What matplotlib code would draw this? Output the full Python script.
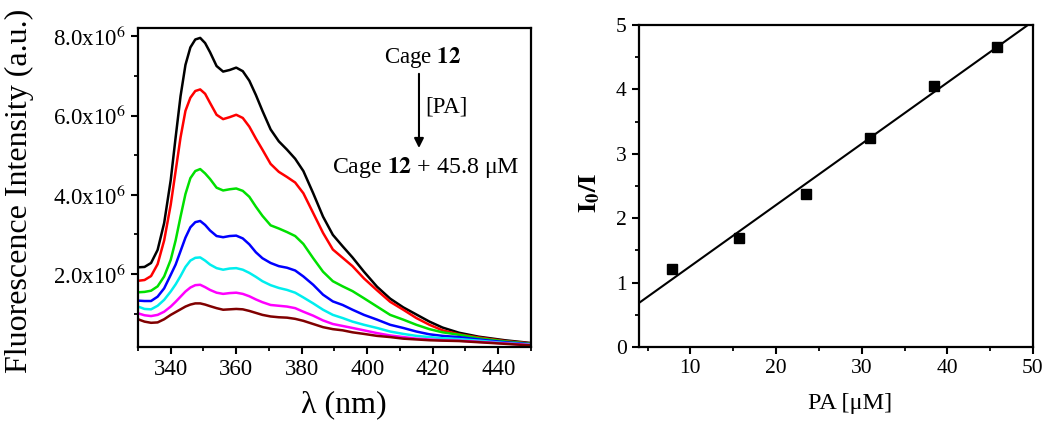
import numpy as np
import matplotlib
matplotlib.use("Agg")
import matplotlib.pyplot as plt
from matplotlib.ticker import MultipleLocator, FixedLocator, FixedFormatter

plt.rcParams['font.family'] = ['Liberation Serif', 'DejaVu Serif']
plt.rcParams['mathtext.fontset'] = 'stix'

# emission spectra, intensity in units of 1e6 (a.u.)
wavelength = [330, 332, 334, 336, 338, 340,
              341.5, 343, 344.5, 346, 347.5, 349,
              350.5, 352, 354, 356, 358, 360,
              362, 364, 366, 368, 370.5, 373,
              375.5, 378, 380.5, 383.5, 386.5, 389.5,
              392.5, 395.5, 399, 403, 407, 411,
              415, 419, 423, 428, 434, 442, 450]

spec_black = [2.17, 2.18, 2.28, 2.61, 3.29, 4.37,
              5.45, 6.49, 7.28, 7.72, 7.92, 7.96,
              7.83, 7.60, 7.25, 7.11, 7.15, 7.21,
              7.12, 6.88, 6.52, 6.12, 5.65, 5.35,
              5.14, 4.91, 4.60, 4.04, 3.45, 2.99,
              2.70, 2.42, 2.06, 1.68, 1.38, 1.16,
              0.98, 0.80, 0.65, 0.52, 0.42, 0.33, 0.26]
spec_red = [1.83, 1.85, 1.95, 2.25, 2.85, 3.75,
            4.60, 5.45, 6.12, 6.45, 6.62, 6.66,
            6.55, 6.32, 6.02, 5.91, 5.96, 6.02,
            5.94, 5.72, 5.42, 5.14, 4.78, 4.58,
            4.45, 4.31, 4.04, 3.54, 3.04, 2.62,
            2.41, 2.20, 1.89, 1.59, 1.30, 1.10,
            0.89, 0.72, 0.58, 0.48, 0.40, 0.31, 0.25]
spec_green = [1.54, 1.55, 1.58, 1.69, 1.94, 2.36,
              2.85, 3.45, 4.02, 4.42, 4.60, 4.65,
              4.54, 4.40, 4.18, 4.11, 4.14, 4.16,
              4.10, 3.95, 3.70, 3.47, 3.23, 3.15,
              3.06, 2.96, 2.76, 2.40, 2.06, 1.82,
              1.69, 1.57, 1.39, 1.18, 0.97, 0.85,
              0.72, 0.61, 0.53, 0.47, 0.38, 0.30, 0.24]
spec_blue = [1.33, 1.32, 1.32, 1.43, 1.64, 1.98,
             2.24, 2.58, 2.92, 3.18, 3.31, 3.34,
             3.24, 3.10, 2.96, 2.93, 2.96, 2.97,
             2.90, 2.75, 2.55, 2.40, 2.28, 2.20,
             2.16, 2.09, 1.94, 1.73, 1.48, 1.31,
             1.22, 1.10, 0.97, 0.85, 0.72, 0.64,
             0.55, 0.48, 0.44, 0.41, 0.35, 0.28, 0.23]
spec_cyan = [1.18, 1.12, 1.11, 1.20, 1.35, 1.56,
             1.74, 1.95, 2.18, 2.34, 2.41, 2.42,
             2.34, 2.24, 2.15, 2.11, 2.14, 2.15,
             2.11, 2.03, 1.93, 1.82, 1.72, 1.65,
             1.60, 1.53, 1.41, 1.26, 1.10, 0.97,
             0.89, 0.80, 0.72, 0.64, 0.55, 0.49,
             0.44, 0.41, 0.38, 0.36, 0.32, 0.26, 0.22]
spec_magenta = [1.01, 0.96, 0.94, 0.97, 1.05, 1.18,
                1.30, 1.43, 1.56, 1.66, 1.72, 1.73,
                1.67, 1.60, 1.53, 1.50, 1.52, 1.53,
                1.50, 1.44, 1.36, 1.29, 1.22, 1.20,
                1.18, 1.14, 1.05, 0.95, 0.83, 0.74,
                0.69, 0.64, 0.58, 0.51, 0.45, 0.41,
                0.37, 0.35, 0.33, 0.32, 0.29, 0.25, 0.21]
spec_brown = [0.86, 0.80, 0.77, 0.78, 0.86, 0.97,
              1.04, 1.11, 1.18, 1.23, 1.26, 1.26,
              1.23, 1.19, 1.14, 1.10, 1.11, 1.12,
              1.11, 1.07, 1.02, 0.97, 0.93, 0.91,
              0.90, 0.87, 0.82, 0.74, 0.66, 0.61,
              0.58, 0.53, 0.49, 0.44, 0.41, 0.37,
              0.35, 0.33, 0.32, 0.31, 0.28, 0.24, 0.20]

spectra = [spec_black, spec_red, spec_green, spec_blue, spec_cyan, spec_magenta, spec_brown]
colors = ['#000000', '#ff0000', '#00e000', '#0000ff', '#00eeee', '#ff00ff', '#800000']

yticks_left = [2e6, 4e6, 6e6, 8e6]
ytick_labels_left = ['2.0x10$^6$', '4.0x10$^6$', '6.0x10$^6$', '8.0x10$^6$']

# Stern-Volmer data
pa_conc = [7.9, 15.7, 23.45, 31.0, 38.45, 45.8]
i0_over_i = [1.21, 1.69, 2.38, 3.25, 4.06, 4.66]

fig = plt.figure(figsize=(10.5, 4.28), dpi=100)
ax1 = fig.add_axes([0.1314, 0.1893, 0.3743, 0.7453])
ax2 = fig.add_axes([0.6086, 0.1893, 0.3752, 0.7523])

for s, c in zip(spectra, colors):
    ax1.plot(wavelength, np.array(s) * 1e6, color=c, lw=1.8,
             solid_joinstyle='round', solid_capstyle='round')

ax1.set_xlim(330, 450)
ax1.set_ylim(0.16e6, 8.21e6)
ax1.xaxis.set_major_locator(MultipleLocator(20))
ax1.xaxis.set_minor_locator(MultipleLocator(10))
ax1.yaxis.set_major_locator(FixedLocator(yticks_left))
ax1.yaxis.set_major_formatter(FixedFormatter(ytick_labels_left))
ax1.yaxis.set_minor_locator(MultipleLocator(1e6))
ax1.set_xticks([340, 360, 380, 400, 420, 440])

# arrow annotation
ax1.text(0.725, 0.909, r'Cage $\mathbf{12}$', transform=ax1.transAxes,
         ha='center', va='center', fontsize=16.5)
ax1.annotate('', xy=(0.715, 0.615), xytext=(0.715, 0.865), xycoords='axes fraction',
             arrowprops=dict(arrowstyle='-|>', color='black', lw=1.5, mutation_scale=14))
ax1.text(0.732, 0.752, '[PA]', transform=ax1.transAxes,
         ha='left', va='center', fontsize=16.5)
ax1.text(0.731, 0.564, r'Cage $\mathbf{12}$ + 45.8 μM', transform=ax1.transAxes,
         ha='center', va='center', fontsize=17.2)

# linear fit
slope, intercept = np.polyfit(pa_conc, i0_over_i, 1)
fit_x = np.array([4, 50])
ax2.plot(fit_x, slope * fit_x + intercept, color='black', lw=1.5)
ax2.plot(pa_conc, i0_over_i, 's', color='black', ms=6.5)
ax2.set_xlim(4, 50)
ax2.set_ylim(0, 5)
ax2.xaxis.set_major_locator(MultipleLocator(10))
ax2.xaxis.set_minor_locator(MultipleLocator(5))
ax2.yaxis.set_major_locator(MultipleLocator(1))
ax2.yaxis.set_minor_locator(MultipleLocator(0.5))

for ax, lsize in ((ax1, 16.5), (ax2, 15.5)):
    for sp in ax.spines.values():
        sp.set_linewidth(1.6)
    ax.tick_params(which='major', direction='out', length=5, width=1.5,
                   labelsize=lsize, top=False, right=False, pad=4)
    ax.tick_params(which='minor', direction='out', length=3, width=1.3,
                   top=False, right=False)

fig.text(0.019, 0.554, 'Fluorescence Intensity (a.u.)', rotation=90,
         ha='center', va='center', fontsize=23)
fig.text(0.327, 0.054, 'λ (nm)', ha='center', va='center', fontsize=23)
fig.text(0.562, 0.549, r'$\mathbf{I_0/I}$', rotation=90,
         ha='center', va='center', fontsize=19)
fig.text(0.81, 0.058, 'PA [μM]', ha='center', va='center', fontsize=17.5)

fig.savefig('out.png', dpi=100)
